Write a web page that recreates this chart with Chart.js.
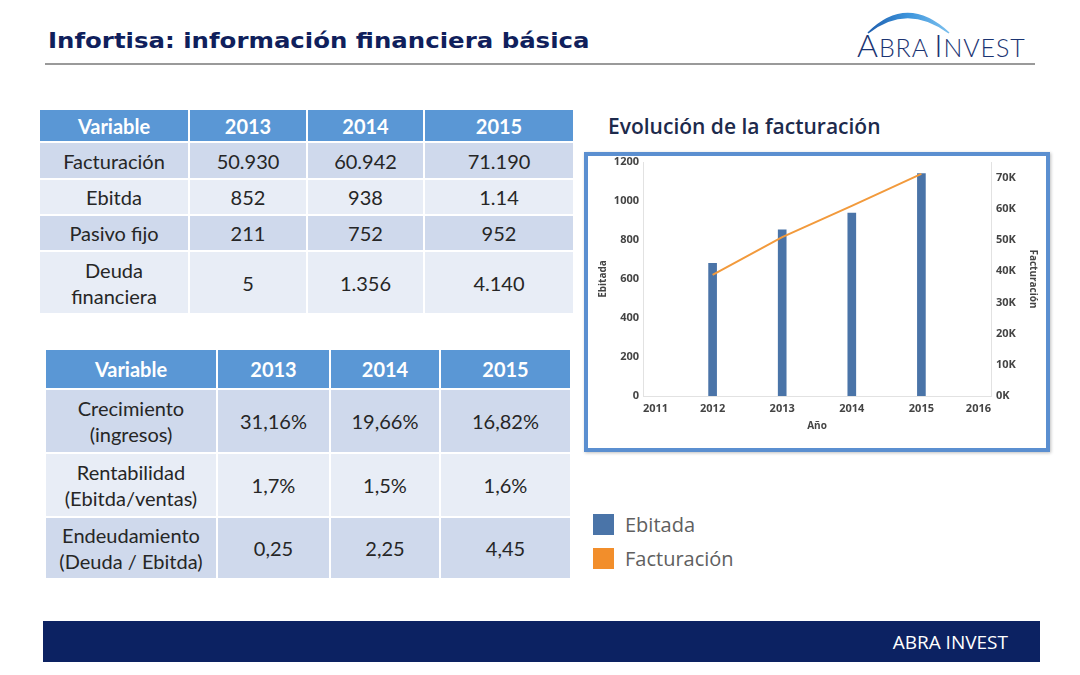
<!DOCTYPE html>
<html>
<head>
<meta charset="utf-8">
<script src="https://cdn.jsdelivr.net/npm/chart.js@4/dist/chart.umd.min.js"></script>
<style>
  html, body { margin: 0; padding: 0; background: #fff; }
  body { width: 1080px; height: 675px; position: relative; overflow: hidden; font-family: "Lato", "Open Sans", sans-serif; }
  .title { position: absolute; left: 48px; top: 28px; font-family: "DejaVu Sans", sans-serif; font-weight: bold; font-size: 22px; color: #101f5c; transform: scaleX(1.11); transform-origin: left center; white-space: nowrap; }
  .rule { position: absolute; left: 45px; top: 63px; width: 990px; height: 2px; background: #9a9a9a; }
  .logo { position: absolute; left: 853px; top: 0; width: 190px; height: 62px; }
  .logo .txt { position: absolute; left: 4px; top: 25px; font-family: "Lato", sans-serif; font-weight: 300; color: #1b3472; white-space: nowrap; letter-spacing: 0.9px; }
  .logo .big { font-size: 32px; }
  .logo .sm { font-size: 25px; }
  table.t { position: absolute; border-collapse: collapse; table-layout: fixed; }
  table.t td, table.t th { border: 2px solid #fff; text-align: center; padding: 0; color: #262626; font-size: 20px; line-height: 26px; }
  table.t th { background: #5a97d5; color: #fff; font-weight: bold; }
  table.t tr.d td { background: #cfd9ec; }
  table.t tr.l td { background: #e8edf6; }
  .ctitle { position: absolute; left: 608px; top: 112px; font-family: "Open Sans", sans-serif; font-weight: 600; font-size: 21px; color: #1d2a4c; }
  .frame { position: absolute; left: 584px; top: 152px; width: 458px; height: 292px; border: 4px solid #5b8fd0; background: #fff; box-shadow: 1px 1px 3px rgba(0,0,0,0.25); }
  #chart { position: absolute; left: 590px; top: 156px; }
  .legend { position: absolute; left: 593px; top: 507px; font-family: "Open Sans", sans-serif; font-size: 20px; color: #606060; }
  .legend div { height: 34px; display: flex; align-items: center; }
  .legend span.sw { display: inline-block; width: 21px; height: 21px; margin-right: 11px; }
  .footer { position: absolute; left: 43px; top: 621px; width: 997px; height: 41px; background: #0c2262; }
  .footer span { position: absolute; right: 32px; top: 8px; color: #fff; font-family: "Open Sans", sans-serif; font-size: 19px; }
</style>
</head>
<body>
<div class="title">Infortisa: información financiera básica</div>
<div class="rule"></div>
<div class="logo">
  <svg width="110" height="34" style="position:absolute;left:12px;top:2px">
    <defs>
      <linearGradient id="g" x1="0" x2="1" y1="0" y2="0">
        <stop offset="0" stop-color="#1f5fae"/>
        <stop offset="0.5" stop-color="#3d95dc"/>
        <stop offset="1" stop-color="#7cc0ee"/>
      </linearGradient>
    </defs>
    <path d="M3 31 Q42 -8 84 31 Q42 0 3 31 Z" fill="url(#g)" stroke="url(#g)" stroke-width="1.5"/>
  </svg>
  <div class="txt"><span class="big">A</span><span class="sm">BRA</span> <span class="big">I</span><span class="sm">NVEST</span></div>
</div>

<table class="t" style="left:38px; top:108px; width:535px;">
  <colgroup><col style="width:150px"><col style="width:118px"><col style="width:117px"><col style="width:150px"></colgroup>
  <tr style="height:33px"><th>Variable</th><th>2013</th><th>2014</th><th>2015</th></tr>
  <tr class="d" style="height:37px"><td>Facturación</td><td>50.930</td><td>60.942</td><td>71.190</td></tr>
  <tr class="l" style="height:36px"><td>Ebitda</td><td>852</td><td>938</td><td>1.14</td></tr>
  <tr class="d" style="height:36px"><td>Pasivo fijo</td><td>211</td><td>752</td><td>952</td></tr>
  <tr class="l" style="height:63px"><td>Deuda<br>financiera</td><td>5</td><td>1.356</td><td>4.140</td></tr>
</table>

<table class="t" style="left:44px; top:348px; width:526px;">
  <colgroup><col style="width:172px"><col style="width:113px"><col style="width:110px"><col style="width:131px"></colgroup>
  <tr style="height:40px"><th>Variable</th><th>2013</th><th>2014</th><th>2015</th></tr>
  <tr class="d" style="height:64px"><td>Crecimiento<br>(ingresos)</td><td>31,16%</td><td>19,66%</td><td>16,82%</td></tr>
  <tr class="l" style="height:64px"><td>Rentabilidad<br>(Ebitda/ventas)</td><td>1,7%</td><td>1,5%</td><td>1,6%</td></tr>
  <tr class="d" style="height:62px"><td>Endeudamiento<br>(Deuda / Ebitda)</td><td>0,25</td><td>2,25</td><td>4,45</td></tr>
</table>

<div class="ctitle">Evolución de la facturación</div>
<div class="frame"></div>
<canvas id="chart" width="456" height="290"></canvas>

<div class="legend">
  <div><span class="sw" style="background:#4a74a8"></span>Ebitada</div>
  <div><span class="sw" style="background:#f28e2b"></span>Facturación</div>
</div>

<div class="footer"><span>ABRA INVEST</span></div>

<script>
// datos del gráfico
var years = [2012, 2013, 2014, 2015];
var ebitada = [680, 852, 938, 1140];
var facturacion = [38830, 50930, 60942, 71190];
var xTicks = [2011, 2012, 2013, 2014, 2015, 2016];
var leftTicks = [0, 200, 400, 600, 800, 1000, 1200];
var rightTicks = [0, 10000, 20000, 30000, 40000, 50000, 60000, 70000];

var tickFont = { family: 'Open Sans', size: 11, weight: 'bold' };
var titleFont = { family: 'Open Sans', size: 10, weight: 'bold' };

function pts(xs, ys) {
  return xs.map(function(x, i) { return { x: x, y: ys[i] }; });
}

// ancho fijo de los ejes verticales y margen superior pequeño
function fitY(w) {
  return function(scale) {
    scale.width = w;
    scale.paddingTop = 6;
    scale.paddingBottom = 0;
  };
}

var ctx = document.getElementById('chart').getContext('2d');
new Chart(ctx, {
  type: 'bar',
  data: {
    datasets: [
      {
        type: 'line',
        label: 'Facturación',
        data: pts(years, facturacion),
        yAxisID: 'y1',
        borderColor: '#f29a3c',
        borderWidth: 2,
        pointRadius: 0,
        tension: 0,
        order: 0
      },
      {
        label: 'Ebitada',
        data: pts(years, ebitada),
        yAxisID: 'y',
        backgroundColor: '#4a74a8',
        barThickness: 8,
        order: 1
      }
    ]
  },
  options: {
    responsive: false,
    animation: false,
    layout: { padding: 0 },
    plugins: { legend: { display: false }, tooltip: { enabled: false } },
    scales: {
      x: {
        type: 'linear',
        offset: false,
        min: 2011, max: 2016,
        afterBuildTicks: function(axis) { axis.ticks = xTicks.map(function(v) { return { value: v }; }); },
        afterFit: function(scale) { scale.height = 50; },
        grid: { display: false, drawTicks: false },
        border: { display: true, color: '#e2e2e2' },
        ticks: { padding: 6, align: 'inner', color: '#444', font: tickFont, callback: function(v) { return String(v); } },
        title: { display: true, text: 'Año', color: '#444', font: titleFont, padding: { top: 4, bottom: 14 } }
      },
      y: {
        position: 'left',
        min: 0, max: 1200,
        afterBuildTicks: function(axis) { axis.ticks = leftTicks.map(function(v) { return { value: v }; }); },
        afterFit: fitY(53),
        grid: { display: false, drawTicks: false },
        border: { display: true, color: '#e2e2e2' },
        ticks: { padding: 4, color: '#444', font: tickFont, callback: function(v) { return String(v); } },
        title: { display: true, text: 'Ebitada', color: '#444', font: titleFont, padding: { top: 7, bottom: 0 } }
      },
      y1: {
        position: 'right',
        min: 0, max: 75000,
        afterBuildTicks: function(axis) { axis.ticks = rightTicks.map(function(v) { return { value: v }; }); },
        afterFit: fitY(55),
        grid: { display: false, drawTicks: false },
        border: { display: true, color: '#e2e2e2' },
        ticks: { padding: 5, color: '#444', font: tickFont, callback: function(v) { return (v / 1000) + 'K'; } },
        title: { display: true, text: 'Facturación', color: '#444', font: titleFont, padding: { top: 7, bottom: 0 } }
      }
    }
  }
});
</script>
</body>
</html>
